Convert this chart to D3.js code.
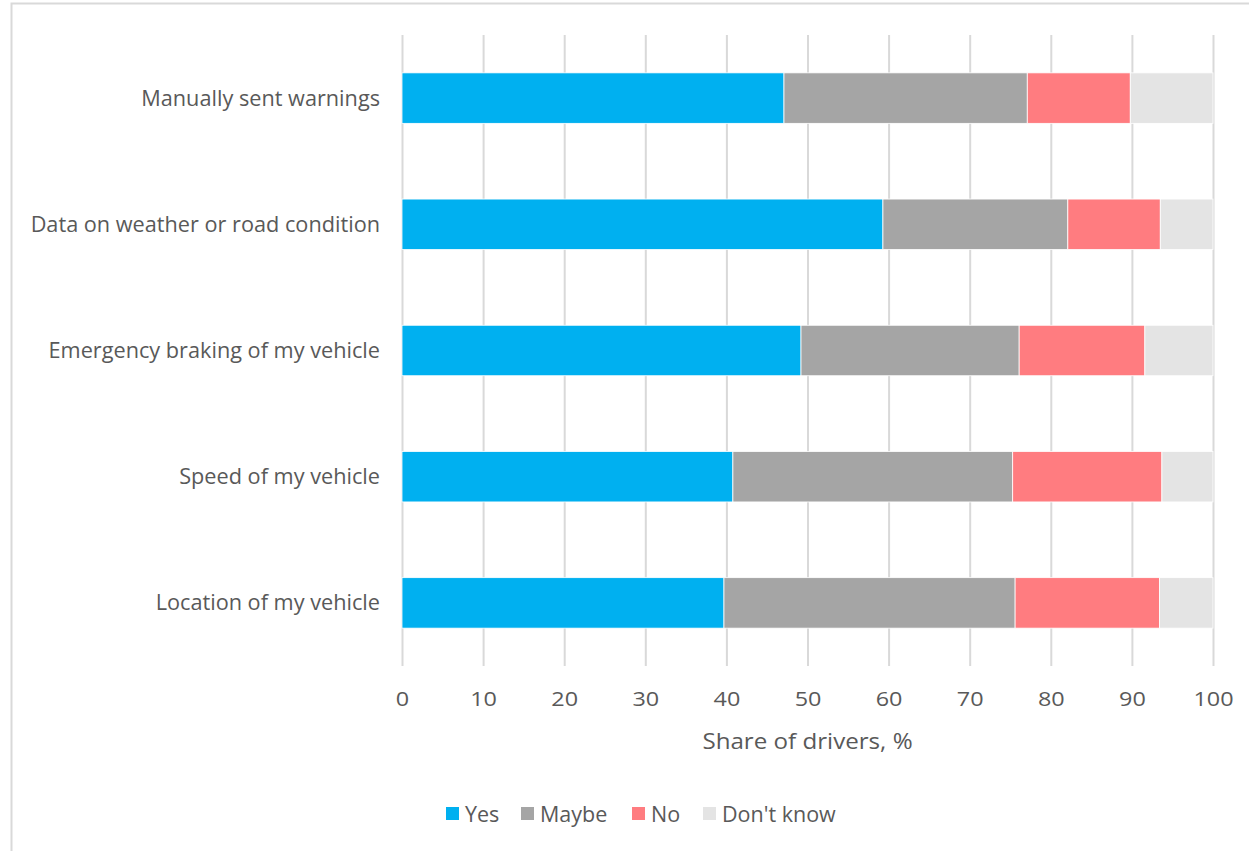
<!DOCTYPE html>
<html>
<head>
<meta charset="utf-8">
<script src="https://cdn.jsdelivr.net/npm/d3@7"></script>
<style>
  body { margin: 0; background: #fff; }
  text { font-family: "Open Sans", "Noto Sans", sans-serif; fill: #595959; }
</style>
</head>
<body>
<div class="chart"></div>
<script>
// categories, top to bottom
var categories = ["Manually sent warnings", "Data on weather or road condition",
                  "Emergency braking of my vehicle", "Speed of my vehicle", "Location of my vehicle"];
var seriesNames = ["Yes", "Maybe", "No", "Don't know"];
var yesVals   = [47.1, 59.3, 49.2, 40.8, 39.7];
var maybeVals = [30.0, 22.8, 26.9, 34.5, 35.9];
var noVals    = [12.7, 11.4, 15.5, 18.4, 17.8];
var dkVals    = [10.2, 6.5, 8.4, 6.3, 6.6];
var xTicks = [0, 10, 20, 30, 40, 50, 60, 70, 80, 90, 100];
var colors = ["#00b0f0", "#a5a5a5", "#ff7c80", "#e4e4e4"];

var width = 1249, height = 851;
var svg = d3.select(".chart").append("svg")
            .attr("width", width)
            .attr("height", height);

// outer chart border
svg.append("rect")
   .attr("x", 11.5).attr("y", 3.5)
   .attr("width", 1300).attr("height", 900)
   .attr("fill", "none")
   .attr("stroke", "#d9d9d9")
   .attr("stroke-width", 2);

var plot = { left: 402, right: 1213, top: 35, bottom: 666 };

var x = d3.scaleLinear().domain([0, 100]).range([plot.left, plot.right]);
var y = d3.scaleBand().domain(categories).range([plot.top, plot.bottom]).paddingInner(0.6).paddingOuter(0.3);

// gridlines + tick labels
var axisBottom = d3.axisBottom(x).tickValues(xTicks)
                   .tickSize(-(plot.bottom - plot.top))
                   .tickSizeOuter(0)
                   .tickPadding(26);

var gx = svg.append("g")
   .attr("transform", "translate(0," + plot.bottom + ")")
   .call(axisBottom);
gx.select(".domain").remove();
gx.selectAll("line").attr("stroke", "#d9d9d9").attr("stroke-width", 2);
gx.selectAll("text")
  .style("font-size", "19.5px")
  .attr("transform", "scale(1.2,1)")
  .attr("fill", "#595959");

// stacked data
var rows = categories.map(function(c, i) {
  return { cat: c, "Yes": yesVals[i], "Maybe": maybeVals[i], "No": noVals[i], "Don't know": dkVals[i] };
});
var stacked = d3.stack().keys(seriesNames)(rows);

svg.append("g").selectAll("g")
   .data(stacked)
   .enter().append("g")
   .attr("fill", function(d, i) { return colors[i]; })
   .selectAll("rect")
   .data(function(d) { return d; })
   .enter().append("rect")
   .attr("x", function(d) { return x(d[0]); })
   .attr("y", function(d) { return y(d.data.cat); })
   .attr("width", function(d) { return x(d[1]) - x(d[0]); })
   .attr("height", y.bandwidth())
   .attr("stroke", "#fff")
   .attr("stroke-width", 0.8);

// category labels
svg.append("g").selectAll("text")
   .data(categories)
   .enter().append("text")
   .attr("x", 380)
   .attr("y", function(d) { return y(d) + y.bandwidth() / 2; })
   .attr("dy", "0.35em")
   .attr("text-anchor", "end")
   .style("font-size", "21.7px")
   .text(function(d) { return d; });

// axis title
svg.append("g")
   .attr("transform", "translate(" + (plot.left + plot.right) / 2 + ",749)")
   .append("text")
   .attr("transform", "scale(1.15,1)")
   .attr("text-anchor", "middle")
   .style("font-size", "21px")
   .text("Share of drivers, %");

// legend
var legendX = [446, 521, 632, 703];
var legend = svg.append("g").selectAll("g")
   .data(seriesNames)
   .enter().append("g")
   .attr("transform", function(d, i) { return "translate(" + legendX[i] + ",807)"; });
legend.append("rect")
   .attr("width", 13).attr("height", 13)
   .attr("fill", function(d, i) { return colors[i]; });
legend.append("text")
   .attr("x", 19).attr("y", 7)
   .attr("dy", "0.35em")
   .style("font-size", "21.5px")
   .text(function(d) { return d; });
</script>
</body>
</html>
